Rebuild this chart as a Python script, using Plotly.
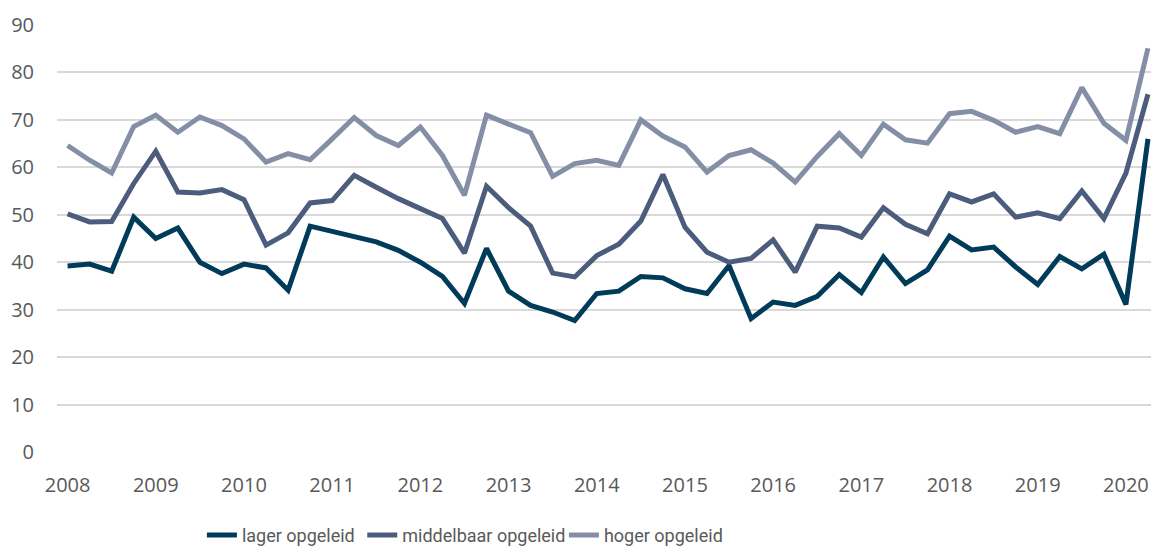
import plotly.graph_objects as go

years = ["2008", "2009", "2010", "2011", "2012", "2013", "2014",
         "2015", "2016", "2017", "2018", "2019", "2020"]
quarter_index = list(range(50))  # 2008 Q1 .. 2020 Q2

lager = [39.2, 39.6, 38.1, 49.5, 45.0, 47.2, 40.0, 37.6, 39.6, 38.8,
         34.1, 47.6, 46.5, 45.5, 44.3, 42.5, 40.0, 37.0, 31.3, 42.9,
         33.9, 30.9, 29.5, 27.7, 33.4, 33.9, 37.0, 36.7, 34.4, 33.4,
         39.3, 28.1, 31.6, 30.9, 32.8, 37.4, 33.6, 41.1, 35.5, 38.4,
         45.5, 42.6, 43.2, 39.0, 35.3, 41.2, 38.6, 41.7, 31.1, 66.0]

middelbaar = [50.2, 48.5, 48.6, 56.6, 63.4, 54.8, 54.6, 55.3, 53.2, 43.6,
              46.2, 52.5, 53.0, 58.3, 55.8, 53.4, 51.3, 49.2, 41.9, 56.0,
              51.5, 47.6, 37.7, 36.9, 41.4, 43.8, 48.7, 58.5, 47.4, 42.1,
              40.0, 40.8, 44.7, 37.9, 47.6, 47.2, 45.3, 51.5, 48.0, 46.0,
              54.4, 52.7, 54.4, 49.5, 50.4, 49.2, 55.0, 49.2, 58.8, 75.4]

hoger = [64.6, 61.5, 58.8, 68.6, 71.0, 67.4, 70.6, 68.8, 66.0, 61.1,
         62.9, 61.6, 66.0, 70.5, 66.7, 64.6, 68.5, 62.5, 54.1, 71.0,
         69.1, 67.3, 58.1, 60.8, 61.5, 60.4, 70.0, 66.6, 64.3, 59.0,
         62.5, 63.7, 60.9, 56.9, 62.3, 67.1, 62.5, 69.1, 65.8, 65.1,
         71.3, 71.8, 69.9, 67.4, 68.6, 67.1, 76.8, 69.3, 65.7, 85.1]

series_names = ["lager opgeleid", "middelbaar opgeleid", "hoger opgeleid"]
series_colors = ["#003c5a", "#4c5c7c", "#848fa6"]
series_values = [lager, middelbaar, hoger]
legend_ids = ["legend", "legend2", "legend3"]
legend_x = [0.1315, 0.2770, 0.4600]

fig = go.Figure()
for name, color, vals, lg in zip(series_names, series_colors, series_values, legend_ids):
    fig.add_trace(go.Scatter(
        x=quarter_index, y=vals, mode="lines", name=name,
        line=dict(color=color, width=5, shape="linear"),
        legend=lg,
    ))

tick_font = dict(family="Open Sans, Noto Sans, sans-serif", size=20, color="#595959")
legend_font = dict(family="Roboto, sans-serif", size=18, color="#595959")

legend_common = dict(orientation="h", yanchor="middle", y=-0.195, xanchor="left",
                     font=legend_font, bgcolor="rgba(0,0,0,0)", itemwidth=30,
                     tracegroupgap=0)
layouts = {}
for lg, lx in zip(legend_ids, legend_x):
    layouts[lg] = dict(legend_common, x=lx)

# the page body has an 8px margin: shift margins by 8px; the figure may run a
# little past the bottom of the window so the legend never forces a margin
fig.update_layout(
    width=1151, height=556,
    margin=dict(l=49, r=0, t=17, b=112),
    paper_bgcolor="white", plot_bgcolor="white",
    showlegend=True,
    **layouts,
)
fig.update_xaxes(
    range=[-0.48, 49.5],
    tickmode="array",
    tickvals=[i * 4 for i in range(len(years))],
    ticktext=years,
    showgrid=False, zeroline=False, showline=False,
    tickfont=tick_font, ticks="", ticklabelstandoff=19,
)
fig.update_yaxes(
    range=[0, 90], dtick=10, tick0=0,
    showgrid=True, gridcolor="#d9d9d9", gridwidth=1.8,
    zeroline=False, showline=False,
    tickfont=tick_font, ticks="", ticklabelstandoff=22,
)
fig.write_html("out.html")
